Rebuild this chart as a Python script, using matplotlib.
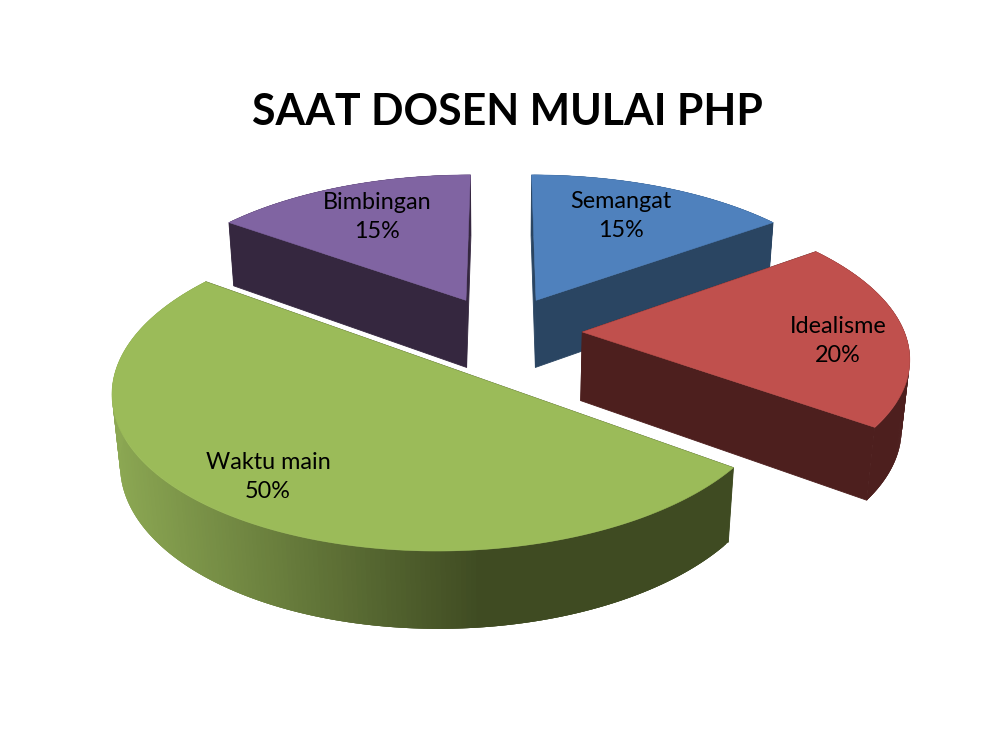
import numpy as np
import matplotlib
matplotlib.use("Agg")
import matplotlib.pyplot as plt
from matplotlib.collections import PolyCollection
from matplotlib.colors import to_rgb

# --- data ---
title = "SAAT DOSEN MULAI PHP"
categories = ["Semangat", "Idealisme", "Waktu main", "Bimbingan"]
values = [15, 20, 50, 15]

# --- style ---
top_colors = ["#4F81BD", "#C0504D", "#9BBB59", "#8064A2"]
side_colors = ["#2A4562", "#4D1F1E", "#3F4B22", "#35273F"]
wall_light = ["#2A4562", "#4D1F1E", "#8CA853", "#35273F"]
explode = [0.24, 0.245, 0.27, 0.24]
radius = [1.0, 0.97, 0.96, 1.0]
draw_order = [3, 0, 1, 2]
label_pos = [(621, 216), (838, 341), (268, 477), (377, 217)]

# projection of the pie plane to picture pixels
cx, cy, ax_x, ax_y, depth = 501, 332, 332, 153, 70
k, m = 0.15, 0.02


def project(x, s, z=0.0):
    w = 1 - k * s + m * z
    return cx + ax_x * x / w, cy + (ax_y * s + depth * z) / w


def rim(theta):
    return np.sin(theta), -np.cos(theta)


fig = plt.figure(figsize=(10, 7.5), dpi=100)
ax = fig.add_axes([0, 0, 1, 1])
ax.set_xlim(0, 1000)
ax.set_ylim(750, 0)
ax.axis("off")

edges = np.deg2rad(np.cumsum([0] + values) * 3.6)

for i in draw_order:
    a0, a1 = edges[i], edges[i + 1]
    ox, os_ = rim((a0 + a1) / 2)
    ox, os_ = ox * explode[i], os_ * explode[i]
    th = np.linspace(a0, a1, 240)
    rx, rs = rim(th)
    rx, rs = rx * radius[i] + ox, rs * radius[i] + os_

    top = project(rx, rs, 0)
    low = project(rx, rs, 1)

    # wall, shaded along the picture x; quads overlap so no seams show
    c0, c1 = np.array(to_rgb(wall_light[i])), np.array(to_rgb(side_colors[i]))
    back, front, back_c, front_c = [], [], [], []
    for j in range(len(th) - 1):
        n = min(j + 3, len(th) - 1)
        poly = [(top[0][j], top[1][j]), (top[0][n], top[1][n]),
                (low[0][n], low[1][n]), (low[0][j], low[1][j])]
        t = np.clip((top[0][j] - 112) / (483 - 112), 0, 1)
        col = c0 * (1 - t) + c1 * t
        if rs[j] < os_:
            back.append(poly)
            back_c.append(col)
        else:
            front.append(poly)
            front_c.append(col)
    if back:
        ax.add_collection(PolyCollection(back, facecolors=back_c, edgecolors="none"))

    # flat cut faces
    apex_t = project(ox, os_, 0)
    apex_l = project(ox, os_, 1)
    for a in (a0, a1):
        ex, es = rim(a)
        ex, es = ex * radius[i], es * radius[i]
        pt = project(ex + ox, es + os_, 0)
        pl = project(ex + ox, es + os_, 1)
        ax.fill([apex_t[0], pt[0], pl[0], apex_l[0]], [apex_t[1], pt[1], pl[1], apex_l[1]],
                color=side_colors[i], lw=0.6)

    if front:
        ax.add_collection(PolyCollection(front, facecolors=front_c, edgecolors="none"))

    # top surface
    ax.fill(np.r_[apex_t[0], top[0]], np.r_[apex_t[1], top[1]], color=top_colors[i], lw=0.4)

for name, v, pos in zip(categories, values, label_pos):
    ax.text(pos[0], pos[1], f"{name}\n{v}%", ha="center", va="center", fontsize=16.8,
            family="Lato", color="black", linespacing=1.5)

ax.text(507, 112, title, ha="center", va="center", fontsize=30.8, family="Lato",
        fontweight="bold", color="black")

fig.savefig("out.png", dpi=100, facecolor="white")
